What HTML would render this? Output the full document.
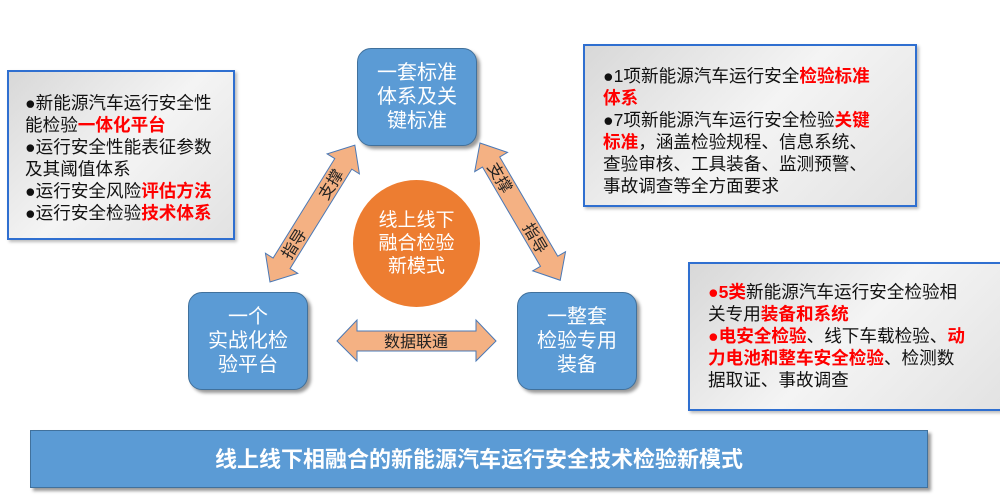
<!DOCTYPE html>
<html><head><meta charset="utf-8"><style>
body{margin:0;width:1000px;height:504px;background:#fff;overflow:hidden;position:relative;font-family:"Liberation Sans","Noto Sans CJK SC",sans-serif}
.box{position:absolute;border:2px solid #2f6fd0;background:linear-gradient(135deg,#d8d8d8,#f4f4f4 50%,#e2e2e2);box-shadow:2px 2px 3px #bbb;font-size:17.6px;line-height:22px;color:#111;box-sizing:border-box;white-space:nowrap}
.r{color:#f00;font-weight:bold}
.node{position:absolute;background:#5b9bd5;border:1px solid #41719c;border-radius:14px;color:#fff;font-size:20px;line-height:24px;text-align:center;box-shadow:3px 3px 3px #999;display:flex;align-items:center;justify-content:center;box-sizing:border-box}
</style></head><body>
<div class="box" style="left:7px;top:70px;width:228px;height:170px;padding:20px 0 0 16px">●新能源汽车运行安全性<br>能检验<span class="r">一体化平台</span><br>●运行安全性能表征参数<br>及其阈值体系<br>●运行安全风险<span class="r">评估方法</span><br>●运行安全检验<span class="r">技术体系</span></div>
<div class="box" style="left:583px;top:44px;width:334px;height:163px;padding:19px 0 0 18px">●1项新能源汽车运行安全<span class="r">检验标准<br>体系</span><br>●7项新能源汽车运行安全检验<span class="r">关键<br>标准</span>，涵盖检验规程、信息系统、<br>查验审核、工具装备、监测预警、<br>事故调查等全方面要求</div>
<div class="box" style="left:688px;top:262px;width:320px;height:149px;padding:17px 0 0 18px"><span class="r">●5类</span>新能源汽车运行安全检验相<br>关专用<span class="r">装备和系统</span><br><span class="r">●电安全检验</span>、线下车载检验、<span class="r">动<br>力电池和整车安全检验</span>、检测数<br>据取证、事故调查</div>
<div class="node" style="left:357px;top:48px;width:120px;height:98px">一套标准<br>体系及关<br>键标准</div>
<div class="node" style="left:188px;top:292px;width:120px;height:98px">一个<br>实战化检<br>验平台</div>
<div class="node" style="left:517px;top:292px;width:120px;height:98px">一整套<br>检验专用<br>装备</div>
<div style="position:absolute;left:353px;top:180px;width:127px;height:127px;border-radius:50%;background:#ed7d31;color:#fff;font-size:19px;line-height:23px;text-align:center;display:flex;align-items:center;justify-content:center">线上线下<br>融合检验<br>新模式</div>
<svg width="1000" height="504" style="position:absolute;left:0;top:0">
<g fill="#f4b183" stroke="#4a78b5" stroke-width="1">
<polygon points="337,341 357,320 357,331 476,331 476,320 496,341 476,361 476,351 357,351 357,361"/>
<g transform="translate(270,282) rotate(-58.2)"><polygon points="0,0 22,-19 22,-10 139,-10 139,-19 161,0 139,19 139,10 22,10 22,19"/></g>
<g transform="translate(480,143) rotate(59.7)"><polygon points="0,0 22,-19 22,-10 137,-10 137,-19 159,0 137,19 137,10 22,10 22,19"/></g>
</g>
<g font-family="Liberation Sans,Noto Sans CJK SC,sans-serif" font-size="16" fill="#222" text-anchor="middle">
<text x="416" y="347">数据联通</text>
<g transform="translate(270,282) rotate(-58.2)"><text x="45" y="6">指导</text><text x="115" y="6">支撑</text></g>
<g transform="translate(480,143) rotate(59.7)"><text x="40" y="6">支撑</text><text x="110" y="6">指导</text></g>
</g>
</svg>
<div style="position:absolute;left:30px;top:430px;width:898px;height:58px;background:#5b9bd5;border:1px solid #41719c;box-shadow:3px 3px 3px #999;color:#fff;font-weight:bold;font-size:22px;line-height:58px;text-align:center;box-sizing:border-box">线上线下相融合的新能源汽车运行安全技术检验新模式</div>
</body></html>
